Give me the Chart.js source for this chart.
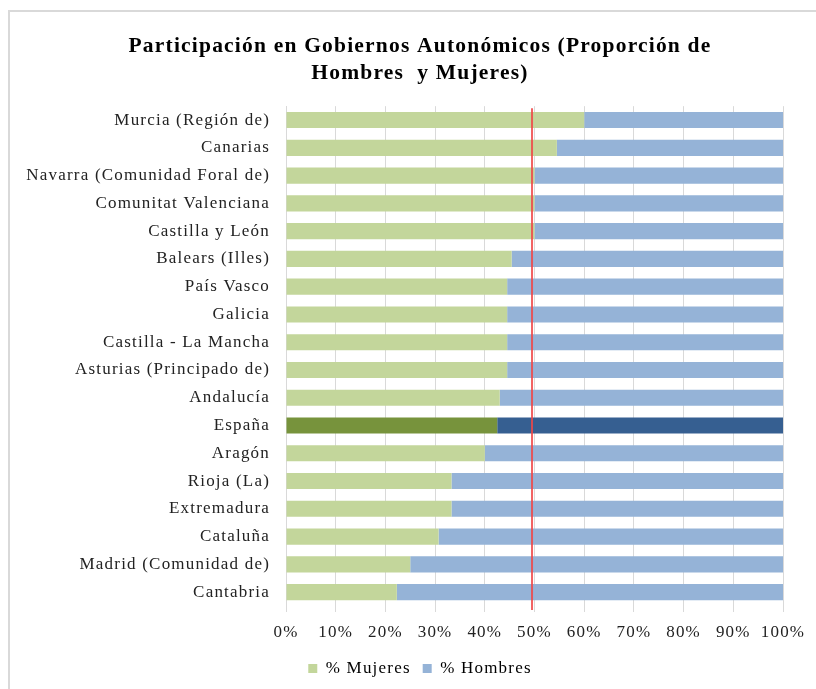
<!DOCTYPE html>
<html>
<head>
<meta charset="utf-8">
<script src="https://cdn.jsdelivr.net/npm/chart.js@4/dist/chart.umd.min.js"></script>
<style>
  html, body { margin: 0; padding: 0; background: #fff; overflow: hidden; width: 816px; height: 689px; }
  #box { position: absolute; left: 8px; top: 10px; width: 840px; height: 700px; border-left: 2px solid #d9d9d9; border-top: 2px solid #d9d9d9; box-sizing: border-box; }
  #wrap { position: absolute; left: 8px; top: 10px; width: 824px; height: 679px; }
</style>
</head>
<body>
<div id="box"></div>
<div id="wrap"><canvas id="c"></canvas></div>
<script>
const titleLines = ["Participación en Gobiernos Autonómicos (Proporción de", "Hombres  y Mujeres)"];
const categories = [
  "Murcia (Región de)", "Canarias", "Navarra (Comunidad Foral de)", "Comunitat Valenciana",
  "Castilla y León", "Balears (Illes)", "País Vasco", "Galicia", "Castilla - La Mancha",
  "Asturias (Principado de)", "Andalucía", "España", "Aragón", "Rioja (La)", "Extremadura",
  "Cataluña", "Madrid (Comunidad de)", "Cantabria"
];
const mujeres = [60, 54.5, 50, 50, 50, 45.4, 44.5, 44.5, 44.5, 44.5, 43, 42.5, 40, 33.3, 33.3, 30.7, 25, 22.3];
const hombres = [40, 45.5, 50, 50, 50, 54.6, 55.5, 55.5, 55.5, 55.5, 57, 57.5, 60, 66.7, 66.7, 69.3, 75, 77.7];
const seriesNames = ["% Mujeres", "% Hombres"];
const xTicks = [0, 10, 20, 30, 40, 50, 60, 70, 80, 90, 100];
const highlighted = "España";
const referenceValue = 49.5;

const hiIdx = categories.indexOf(highlighted);
const serif = "'Liberation Serif', 'Times New Roman', serif";

const spacing = {
  id: 'spacing',
  beforeUpdate(chart) { chart.ctx.letterSpacing = '1.2px'; },
  beforeLayout(chart) { chart.ctx.letterSpacing = '1.2px'; },
  beforeDraw(chart) { chart.ctx.letterSpacing = '1.2px'; }
};

const refLine = {
  id: 'refLine',
  afterDatasetsDraw(chart) {
    const { ctx, chartArea, scales } = chart;
    const x = scales.x.getPixelForValue(referenceValue);
    ctx.save();
    ctx.strokeStyle = 'rgba(240,70,70,0.85)';
    ctx.lineWidth = 2;
    ctx.beginPath();
    ctx.moveTo(x, chartArea.top + 2);
    ctx.lineTo(x, chartArea.bottom + 4);
    ctx.stroke();
    ctx.restore();
  }
};

new Chart(document.getElementById('c'), {
  type: 'bar',
  data: {
    labels: categories,
    datasets: [
      {
        label: seriesNames[0],
        data: mujeres,
        backgroundColor: (c) => c.index === hiIdx ? '#77933c' : '#c3d69b',
        barPercentage: 0.58,
        categoryPercentage: 1.0
      },
      {
        label: seriesNames[1],
        data: hombres,
        backgroundColor: (c) => c.index === hiIdx ? '#365f91' : '#95b3d7',
        barPercentage: 0.58,
        categoryPercentage: 1.0
      }
    ]
  },
  options: {
    indexAxis: 'y',
    responsive: true,
    maintainAspectRatio: false,
    animation: false,
    layout: { padding: { left: 0, right: 0, top: 0, bottom: 2 } },
    scales: {
      x: {
        stacked: true,
        min: 0, max: 100,
        afterBuildTicks: (s) => { s.ticks = xTicks.map(v => ({ value: v })); },
        afterFit: (s) => { s.height = 42; },
        ticks: {
          callback: (v) => v + '%',
          color: '#222',
          font: { family: serif, size: 17 },
          padding: 10,
          maxRotation: 0,
          autoSkip: false
        },
        grid: { color: '#d9d9d9', lineWidth: 1, drawTicks: true, tickLength: 6, tickColor: '#d9d9d9' },
        border: { display: false }
      },
      y: {
        stacked: true,
        afterFit: (s) => { s.width = 278; },
        ticks: {
          color: '#222',
          font: { family: serif, size: 17 },
          padding: 16,
          autoSkip: false
        },
        grid: { display: false, drawTicks: false },
        border: { display: true, color: '#d9d9d9', width: 1 }
      },
      yRight: {
        type: 'category',
        position: 'right',
        afterFit: (s) => { s.width = 49; },
        ticks: { display: false },
        grid: { display: false, drawTicks: false },
        border: { display: false }
      }
    },
    plugins: {
      title: {
        display: true,
        text: titleLines,
        color: '#000',
        font: { family: serif, size: 21.5, weight: 'bold', lineHeight: 1.26 },
        padding: { top: 23, bottom: 19 }
      },
      legend: {
        position: 'bottom',
        labels: {
          boxWidth: 9,
          boxHeight: 9,
          color: '#222',
          font: { family: serif, size: 17 },
          padding: 12,
          generateLabels: (chart) => chart.data.datasets.map((d, i) => ({
            text: d.label,
            fillStyle: i === 0 ? '#c3d69b' : '#95b3d7',
            strokeStyle: i === 0 ? '#c3d69b' : '#95b3d7',
            lineWidth: 0,
            datasetIndex: i
          }))
        }
      },
      tooltip: { enabled: false }
    }
  },
  plugins: [spacing, refLine]
});
</script>
</body>
</html>
